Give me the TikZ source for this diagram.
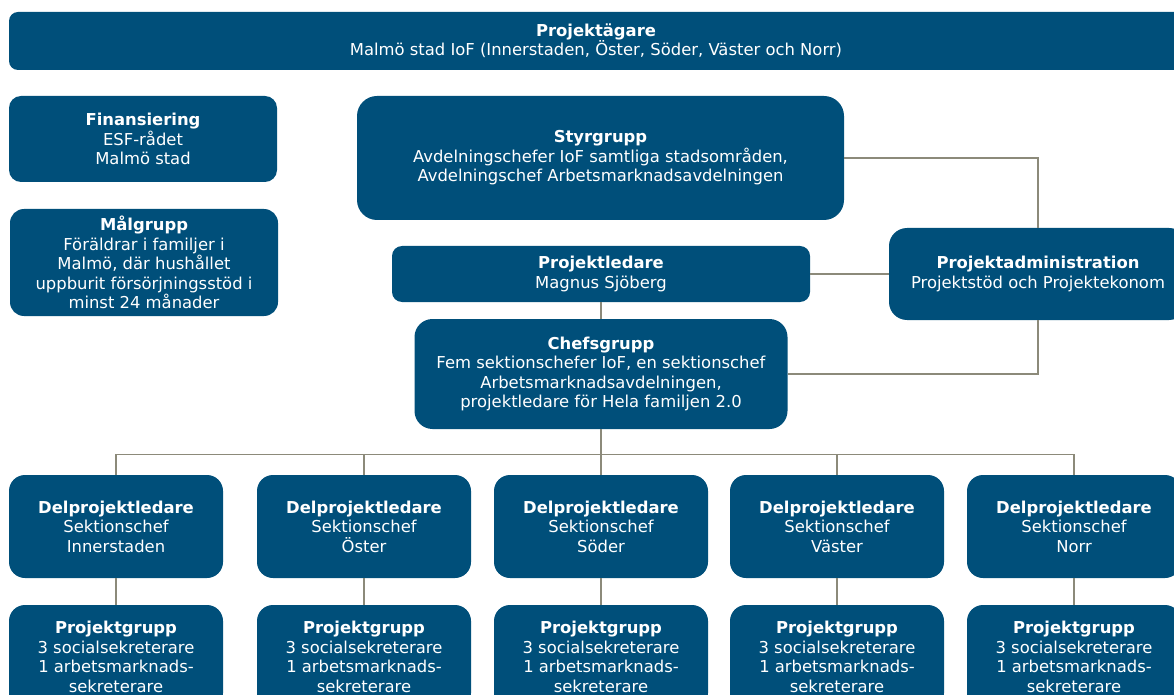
\documentclass[tikz,border=0pt]{standalone}
\usepackage{fontspec}
\setmainfont{DejaVu Sans}
\usepackage{xcolor}
\usepackage{tikz}
\usetikzlibrary{
	positioning
}
\definecolor{orgblue}{RGB}{0,79,122}
\definecolor{orgline}{RGB}{140,138,122}
\newdimen\pxu
\pxu=0.75pt

\begin{document}
\begin{tikzpicture}[x=0.75pt,y=-0.75pt,
		box/.style={fill=orgblue, text=white, align=center, inner sep=0pt,
			rounded corners=#1, font=\fontsize{12.3}{14.6}\selectfont},
		box/.default=16\pxu,
		link/.style={draw=orgline, line width=1.1pt}]
		\useasboundingbox (0,0) rectangle (1174,695);
		\clip (0,0) rectangle (1174,695);
		\node[box=9\pxu, minimum width=1174\pxu, minimum height=58\pxu] (agare) at (596,41)
		{\textbf{Projektägare}\\Malmö stad IoF (Innerstaden, Öster, Söder, Väster och Norr)};
		\node[box=12\pxu, minimum width=268\pxu, minimum height=86\pxu] (fin) at (143,139)
		{\textbf{Finansiering}\\ESF-rådet\\Malmö stad};
		\node[box=14\pxu, minimum width=268\pxu, minimum height=107\pxu] (mal) at (144,262.5)
		{\textbf{Målgrupp}\\Föräldrar i familjer i\\Malmö, där hushållet\\uppburit försörjningsstöd i\\minst 24 månader};
		\node[box=20\pxu, minimum width=487\pxu, minimum height=124\pxu] (styr) at (600.5,158)
		{\textbf{Styrgrupp}\\Avdelningschefer IoF samtliga stadsområden,\\Avdelningschef Arbetsmarknadsavdelningen};
		\node[box=10\pxu, minimum width=418\pxu, minimum height=56\pxu] (pled) at (601,274)
		{\textbf{Projektledare}\\Magnus Sjöberg};
		\node[box=18\pxu, minimum width=373\pxu, minimum height=110\pxu] (chef) at (601,374)
		{\textbf{Chefsgrupp}\\Fem sektionschefer IoF, en sektionschef\\Arbetsmarknadsavdelningen,\\projektledare för Hela familjen 2.0};
		\node[box=18\pxu, minimum width=298\pxu, minimum height=92\pxu] (padm) at (1038,274)
		{\textbf{Projektadministration}\\Projektstöd och Projektekonom};
		\foreach \i/\x/\omr in {1/116/Innerstaden, 2/364/Öster, 3/601/Söder, 4/837/Väster, 5/1074/Norr} {
			\node[box, minimum width=214\pxu, minimum height=103\pxu] (del\i) at (\x,526.5)
			{\textbf{Delprojektledare}\\Sektionschef\\\omr};
			\node[box, minimum width=214\pxu, minimum height=104\pxu] (grp\i) at (\x,657)
			{\textbf{Projektgrupp}\\3 socialsekreterare\\1 arbetsmarknads-\\sekreterare};
			\draw[link] (chef.south) -- ++(0,25) -| (del\i.north);
			\draw[link] (del\i.south) -- (grp\i.north);
		}
		\draw[link] (styr.east) -| (padm.north);
		\draw[link] (pled.east) -- (padm.west);
		\draw[link] (padm.south) |- (chef.east);
		\draw[link] (pled.south) -- (chef.north);
	\end{tikzpicture}
\end{document}
